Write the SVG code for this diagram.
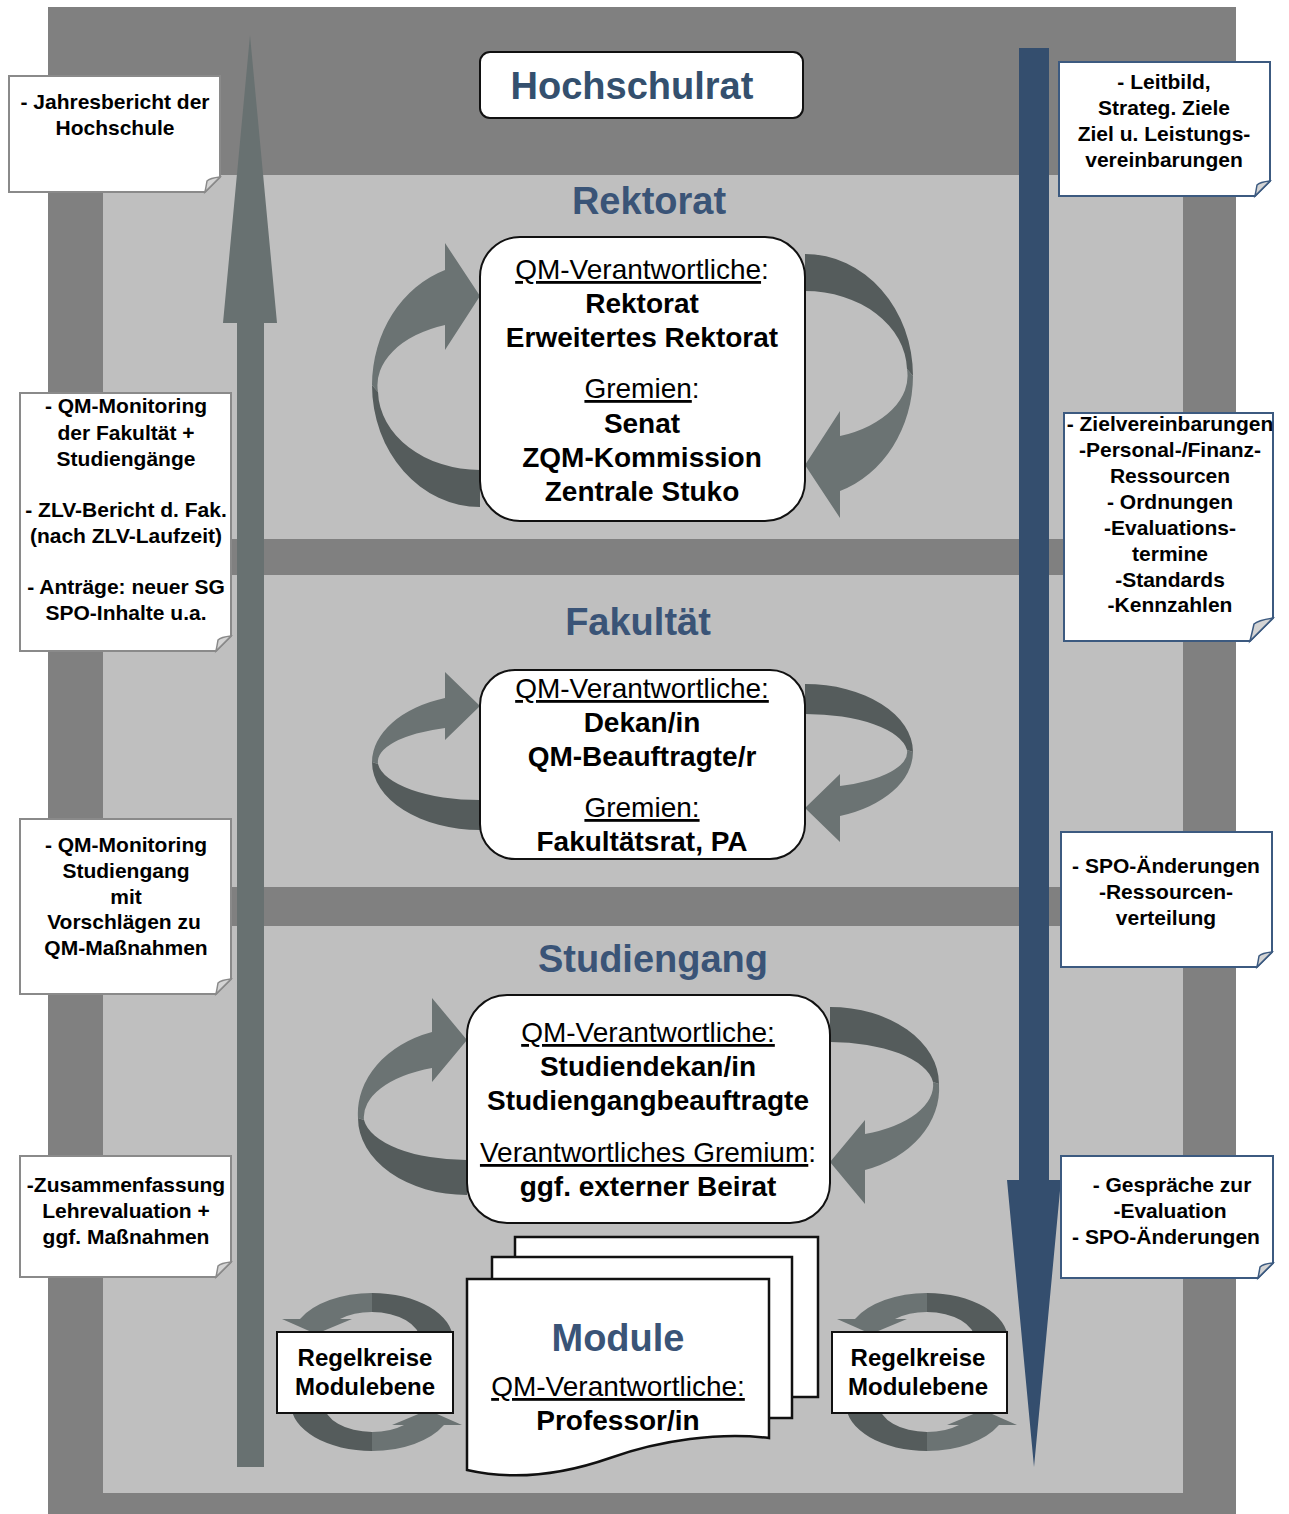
<svg xmlns="http://www.w3.org/2000/svg" width="1289" height="1514" viewBox="0 0 1289 1514">
<style>
text{font-family:"Liberation Sans",Arial,sans-serif;text-anchor:middle;fill:#000}
.ttl{font-size:38px;font-weight:bold;fill:#3a5477}
.bx{font-size:28px;font-weight:bold}
.rg{font-weight:normal}
.u{text-decoration:underline}
.nt{font-size:21px;font-weight:bold}
.rk{font-size:24px;font-weight:bold}
.box{fill:#fff;stroke:#111;stroke-width:2}
.nl{fill:#fff;stroke:#8a8a8a;stroke-width:2}
.nr{fill:#fff;stroke:#3c5a80;stroke-width:2}
.fl{fill:#d4d4d4;stroke:#8a8a8a;stroke-width:1.5}
.fr{fill:#d4d4d4;stroke:#3c5a80;stroke-width:1.5}
.lt{fill:#6b7373}
.dk{fill:#555c5c}
.pg{fill:#fff;stroke:#111;stroke-width:2.5}
</style>
<defs>
<g id="rk-left">
<path class="dk" d="M372,385 A108 122 0 0 0 480,507 L480,470 A102 80 0 0 1 378,392 Z"/>
<path class="lt" d="M445,270 A108 122 0 0 0 372,385 L378,392 A102 64 0 0 1 445,325 L445,350 L480,296 L445,243 Z"/>
</g>
<g id="fk-left">
<path class="dk" d="M372,762 A108 68 0 0 0 480,830 L480,800 A102 40 0 0 1 378,764 Z"/>
<path class="lt" d="M445,698 A108 68 0 0 0 372,762 L378,764 A102 36 0 0 1 445,728 L445,740 L480,706 L445,672 Z"/>
</g>
<g id="sg-left">
<path class="dk" d="M358,1118 A109 77 0 0 0 467,1195 L467,1160 A103 45 0 0 1 364,1120 Z"/>
<path class="lt" d="M432,1032 A109 86 0 0 0 358,1118 L364,1120 A103 52 0 0 1 432,1068 L432,1082 L467,1040 L432,998 Z"/>
</g>
<g id="md-half">
<path class="dk" d="M372,1293 A81 47 0 0 1 453,1340 L420,1340 A48 28 0 0 0 372,1312 Z"/>
<path class="lt" d="M372,1293 A81 47 0 0 0 300,1319 L282,1319 L316,1334 L352,1319 L340,1319 A48 28 0 0 1 372,1312 Z"/>
</g>
</defs>
<g id="background">
<rect x="48" y="7" width="1188" height="1507" fill="#808080"/>
<rect x="103" y="175" width="1080" height="1318" fill="#bfbfbf"/>
<rect x="48" y="539" width="1188" height="36" fill="#808080"/>
<rect x="48" y="887" width="1188" height="39" fill="#808080"/>
</g>
<g id="connectors">
<path d="M237,1467 V323 H223 L250,35 L277,323 H264 V1467 Z" fill="#687171"/>
<path d="M1019,48 H1049 V1180 H1061 L1034,1467 L1007,1180 H1019 Z" fill="#344e6e"/>
<g id="cycle-rektorat">
<use href="#rk-left"/>
<use href="#rk-left" transform="rotate(180 642.5 380.5)"/>
</g>
<g id="cycle-fakultaet">
<use href="#fk-left"/>
<use href="#fk-left" transform="rotate(180 642.5 757)"/>
</g>
<g id="cycle-studiengang">
<use href="#sg-left"/>
<use href="#sg-left" transform="rotate(180 648.5 1101)"/>
</g>
<g id="cycle-module-left">
<use href="#md-half"/>
<use href="#md-half" transform="rotate(180 372 1372)"/>
</g>
<g id="cycle-module-right" transform="translate(555 0)">
<use href="#md-half"/>
<use href="#md-half" transform="rotate(180 372 1372)"/>
</g>
</g>
<g id="hochschulrat">
<rect class="box" x="480" y="52" width="323" height="66" rx="10"/>
<text class="ttl" x="632" y="99" style="fill:#34506e">Hochschulrat</text>
</g>
<g id="rektorat">
<text class="ttl" x="649" y="214">Rektorat</text>
<rect class="box" x="480" y="237" width="325" height="284" rx="40"/>
<text class="bx" x="642" y="279"><tspan class="rg u">QM-Verantwortliche</tspan><tspan class="rg">:</tspan></text>
<text class="bx" x="642" y="313">Rektorat</text>
<text class="bx" x="642" y="347">Erweitertes Rektorat</text>
<text class="bx" x="642" y="398"><tspan class="rg u">Gremien</tspan><tspan class="rg">:</tspan></text>
<text class="bx" x="642" y="433">Senat</text>
<text class="bx" x="642" y="467">ZQM-Kommission</text>
<text class="bx" x="642" y="501">Zentrale Stuko</text>
</g>
<g id="fakultaet">
<text class="ttl" x="638" y="635">Fakultät</text>
<rect class="box" x="480" y="670" width="325" height="189" rx="35"/>
<text class="bx" x="642" y="698"><tspan class="rg u">QM-Verantwortliche:</tspan></text>
<text class="bx" x="642" y="732">Dekan/in</text>
<text class="bx" x="642" y="766">QM-Beauftragte/r</text>
<text class="bx" x="642" y="817"><tspan class="rg u">Gremien:</tspan></text>
<text class="bx" x="642" y="851">Fakultätsrat, PA</text>
</g>
<g id="studiengang">
<text class="ttl" x="653" y="972">Studiengang</text>
<rect class="box" x="467" y="995" width="363" height="228" rx="40"/>
<text class="bx" x="648" y="1042"><tspan class="rg u">QM-Verantwortliche:</tspan></text>
<text class="bx" x="648" y="1076">Studiendekan/in</text>
<text class="bx" x="648" y="1110">Studiengangbeauftragte</text>
<text class="bx" x="648" y="1162"><tspan class="rg u">Verantwortliches Gremium</tspan><tspan class="rg">:</tspan></text>
<text class="bx" x="648" y="1196">ggf. externer Beirat</text>
</g>
<g id="module">
<rect class="pg" x="515" y="1237" width="303" height="160"/>
<rect class="pg" x="492" y="1257" width="300" height="161"/>
<path class="pg" d="M467,1279 H769 V1438 C720,1432 660,1440 610,1458 C570,1472 520,1482 467,1470 Z"/>
<text class="ttl" x="618" y="1351">Module</text>
<text class="bx" x="618" y="1396"><tspan class="rg u">QM-Verantwortliche:</tspan></text>
<text class="bx" x="618" y="1430">Professor/in</text>
</g>
<g id="regelkreise-left">
<rect class="box" x="277" y="1332" width="176" height="81"/>
<text class="rk" x="365" y="1366">Regelkreise</text>
<text class="rk" x="365" y="1395">Modulebene</text>
</g>
<g id="regelkreise-right">
<rect class="box" x="832" y="1332" width="175" height="81"/>
<text class="rk" x="918" y="1366">Regelkreise</text>
<text class="rk" x="918" y="1395">Modulebene</text>
</g>
<g id="note-l1">
<path class="nl" d="M9,76 H220 V177 L205,192 H9 Z"/>
<path class="fl" d="M220,177 Q210,178 207,181 Q206,187 205,192 Z"/>
<text class="nt" x="115" y="109">- Jahresbericht der</text>
<text class="nt" x="115" y="135">Hochschule</text>
</g>
<g id="note-l2">
<path class="nl" d="M20,393 H231 V636 L216,651 H20 Z"/>
<path class="fl" d="M231,636 Q221,637 218,640 Q217,646 216,651 Z"/>
<text class="nt" x="126" y="413">- QM-Monitoring</text>
<text class="nt" x="126" y="440">der Fakultät +</text>
<text class="nt" x="126" y="466">Studiengänge</text>
<text class="nt" x="126" y="517">- ZLV-Bericht d. Fak.</text>
<text class="nt" x="126" y="543">(nach ZLV-Laufzeit)</text>
<text class="nt" x="126" y="594">- Anträge: neuer SG</text>
<text class="nt" x="126" y="620">SPO-Inhalte u.a.</text>
</g>
<g id="note-l3">
<path class="nl" d="M20,819 H231 V979 L216,994 H20 Z"/>
<path class="fl" d="M231,979 Q221,980 218,983 Q217,989 216,994 Z"/>
<text class="nt" x="126" y="852">- QM-Monitoring</text>
<text class="nt" x="126" y="878">Studiengang</text>
<text class="nt" x="126" y="904">mit</text>
<text class="nt" x="124" y="929">Vorschlägen zu</text>
<text class="nt" x="126" y="955">QM-Maßnahmen</text>
</g>
<g id="note-l4">
<path class="nl" d="M20,1156 H231 V1262 L216,1277 H20 Z"/>
<path class="fl" d="M231,1262 Q221,1263 218,1266 Q217,1272 216,1277 Z"/>
<text class="nt" x="126" y="1192">-Zusammenfassung</text>
<text class="nt" x="126" y="1218">Lehrevaluation +</text>
<text class="nt" x="126" y="1244">ggf. Maßnahmen</text>
</g>
<g id="note-r1">
<path class="nr" d="M1059,62 H1270 V181 L1255,196 H1059 Z"/>
<path class="fr" d="M1270,181 Q1260,182 1257,185 Q1256,191 1255,196 Z"/>
<text class="nt" x="1164" y="89">- Leitbild,</text>
<text class="nt" x="1164" y="115">Strateg. Ziele</text>
<text class="nt" x="1164" y="141">Ziel u. Leistungs-</text>
<text class="nt" x="1164" y="167">vereinbarungen</text>
</g>
<g id="note-r2">
<path class="nr" d="M1064,413 H1273 V618 L1250,641 H1064 Z"/>
<path class="fr" d="M1273,618 Q1258,620 1254,624 Q1252,633 1250,641 Z"/>
<text class="nt" x="1170" y="431">- Zielvereinbarungen</text>
<text class="nt" x="1170" y="457">-Personal-/Finanz-</text>
<text class="nt" x="1170" y="483">Ressourcen</text>
<text class="nt" x="1170" y="509">- Ordnungen</text>
<text class="nt" x="1170" y="535">-Evaluations-</text>
<text class="nt" x="1170" y="561">termine</text>
<text class="nt" x="1170" y="587">-Standards</text>
<text class="nt" x="1170" y="612">-Kennzahlen</text>
</g>
<g id="note-r3">
<path class="nr" d="M1061,832 H1272 V952 L1257,967 H1061 Z"/>
<path class="fr" d="M1272,952 Q1262,953 1259,956 Q1258,962 1257,967 Z"/>
<text class="nt" x="1166" y="873">- SPO-Änderungen</text>
<text class="nt" x="1166" y="899">-Ressourcen-</text>
<text class="nt" x="1166" y="925">verteilung</text>
</g>
<g id="note-r4">
<path class="nr" d="M1061,1156 H1273 V1263 L1258,1278 H1061 Z"/>
<path class="fr" d="M1273,1263 Q1263,1264 1260,1267 Q1259,1273 1258,1278 Z"/>
<text class="nt" x="1172" y="1192">- Gespräche zur</text>
<text class="nt" x="1170" y="1218">-Evaluation</text>
<text class="nt" x="1166" y="1244">- SPO-Änderungen</text>
</g>
</svg>
